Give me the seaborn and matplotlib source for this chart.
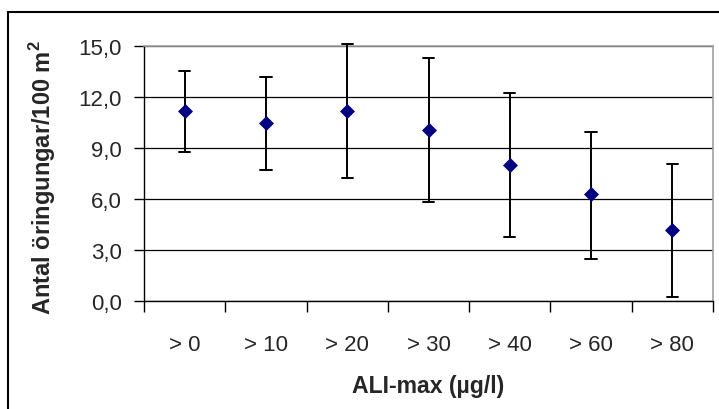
import numpy as np
import pandas as pd
import matplotlib
matplotlib.use("Agg")
import matplotlib.pyplot as plt
import seaborn as sns
from matplotlib.lines import Line2D

categories = ["> 0", "> 10", "> 20", "> 30", "> 40", "> 60", "> 80"]
means = [11.2, 10.5, 11.2, 10.1, 8.0, 6.3, 4.2]
upper = [13.55, 13.2, 15.15, 14.3, 12.25, 9.95, 8.05]
lower = [8.8, 7.7, 7.25, 5.85, 3.75, 2.5, 0.25]
yticks = [0, 3, 6, 9, 12, 15]

sns.set_style("white")
plt.rcParams['font.family'] = ['Liberation Sans', 'DejaVu Sans']
plt.rcParams['mathtext.fontset'] = 'custom'
plt.rcParams['mathtext.rm'] = 'Liberation Sans'
plt.rcParams['mathtext.bf'] = 'Liberation Sans:bold'

rows = []
for c, m, u, l in zip(categories, means, upper, lower):
    for v in (l, m, u):
        rows.append({"cat": c, "val": v})
df = pd.DataFrame(rows)

fig = plt.figure(figsize=(7.19, 4.10), dpi=100)
ax = fig.add_axes([144/719, 1 - 302/410, (713-144)/719, (302-47.3)/410])

sns.pointplot(data=df, x="cat", y="val", order=categories, estimator="median",
              errorbar=("pi", 100), linestyle="none", markers="D", color="#000080",
              capsize=0.14, err_kws={"color": "black", "linewidth": 1.4},
              markersize=7, ax=ax)
for ln in ax.lines:
    ln.set_clip_on(False)
    if ln.get_marker() == "D":
        ln.set_zorder(6)
        ln.set_markeredgewidth(0.5)
    else:
        ln.set_zorder(4)

ax.set_ylim(0, 15)
ax.set_xlim(-0.5, 6.5)
ax.set_yticks(yticks)
ax.set_yticklabels([f"{v:.1f}".replace(".", ",") for v in yticks], fontsize=16)
ax.set_xticks(np.arange(-0.5, 7.0, 1.0))
ax.set_xticklabels([])
ax.set_xticks(np.arange(7), minor=True)
ax.set_xticklabels(categories, minor=True, fontsize=16)
ax.tick_params(axis="x", which="major", direction="out", length=8, width=1, color="black", bottom=True)
ax.tick_params(axis="x", which="minor", length=0, pad=24)
ax.tick_params(axis="y", direction="out", length=7, width=1, color="black", left=True, pad=9)

ax.yaxis.grid(True, color="black", linewidth=0.9)
ax.set_axisbelow(True)
for s in ["left", "bottom"]:
    ax.spines[s].set_color("black")
    ax.spines[s].set_linewidth(1.0)
for s in ["top", "right"]:
    ax.spines[s].set_color("#a0a0a0")
    ax.spines[s].set_linewidth(1.2)

ax.set_xlabel("ALI-max (µg/l)", fontsize=16.6, fontweight="bold")
ax.set_ylabel(r"Antal öringungar/100 m$^{\mathbf{2}}$", fontsize=17, fontweight="bold")
ax.xaxis.set_label_coords(0.5, -0.285)
ax.yaxis.set_label_coords(-0.152, 0.49)

# outer chart frame (top and left edges visible)
fig.add_artist(Line2D([8/719, 1.0], [1 - 13/410, 1 - 13/410], color="black", linewidth=1.5, transform=fig.transFigure))
fig.add_artist(Line2D([8/719, 8/719], [0, 1 - 13/410], color="black", linewidth=1.5, transform=fig.transFigure))

fig.savefig("out.png", dpi=100)
